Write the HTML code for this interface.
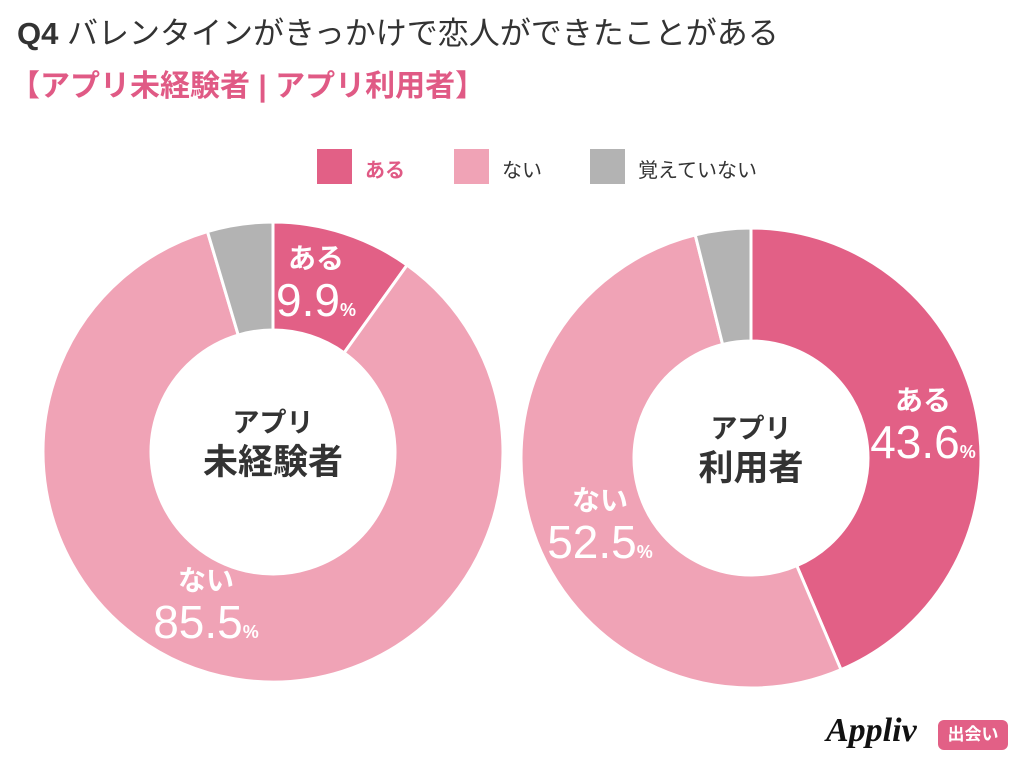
<!DOCTYPE html>
<html><head><meta charset="utf-8">
<style>
body{margin:0;width:1024px;height:768px;background:#fff;overflow:hidden;font-family:"Liberation Sans","Noto Sans CJK JP",sans-serif;}
.t{position:absolute;white-space:nowrap;}
</style></head>
<body>
<div class="t" style="left:17px;top:8px;font-size:31px;color:#333;"><b style="font-size:31px">Q4</b> バレンタインがきっかけで恋人ができたことがある</div>
<div class="t" style="left:10px;top:61px;font-size:30px;color:#e05a85;font-weight:bold;">【アプリ未経験者 | アプリ利用者】</div>
<div>
<div class="t" style="left:317px;top:149px;width:35px;height:35px;background:#e26086"></div>
<div class="t" style="left:365px;top:154px;font-size:20px;color:#e05a85;font-weight:bold">ある</div>
<div class="t" style="left:454px;top:149px;width:35px;height:35px;background:#f0a3b6"></div>
<div class="t" style="left:502px;top:154px;font-size:20px;color:#333">ない</div>
<div class="t" style="left:590px;top:149px;width:35px;height:35px;background:#b3b3b3"></div>
<div class="t" style="left:638px;top:154px;font-size:20px;color:#333">覚えていない</div>
</div>
<svg id="chart" width="1024" height="768" style="position:absolute;left:0;top:0"></svg>
<div class="t" style="left:826px;top:712px;font-family:'Liberation Serif',serif;font-style:italic;font-weight:bold;font-size:34px;color:#111">Appliv</div>
<div class="t" style="left:938px;top:720px;width:70px;height:30px;border-radius:6px;background:#e26086;color:#fff;font-size:17px;font-weight:bold;text-align:center;line-height:30px">出会い</div>
<script>
const categories=["ある","ない","覚えていない"];
const colors=["#e26086","#f0a3b6","#b3b3b3"];
const groupLabels=[["アプリ","未経験者"],["アプリ","利用者"]];
const valuesNovice=[9.9,85.5,4.6];
const valuesUser=[43.6,52.5,3.9];
const svg=document.getElementById('chart');
const NS="http://www.w3.org/2000/svg";
function pt(cx,cy,r,a){return [cx+r*Math.sin(a),cy-r*Math.cos(a)];}
function donut(vals,cx,cy,R,r,name,labelPos){
  const tot=vals.reduce((a,b)=>a+b,0);let acc=0;
  vals.forEach((v,i)=>{
    const a0=acc/tot*2*Math.PI;acc+=v;const a1=acc/tot*2*Math.PI;
    const lg=(a1-a0)>Math.PI?1:0;
    const p0=pt(cx,cy,R,a0),p1=pt(cx,cy,R,a1),q1=pt(cx,cy,r,a1),q0=pt(cx,cy,r,a0);
    const p=document.createElementNS(NS,'path');
    p.setAttribute('d',`M${p0}A${R},${R} 0 ${lg} 1 ${p1}L${q1}A${r},${r} 0 ${lg} 0 ${q0}Z`);
    p.setAttribute('fill',colors[i]);p.setAttribute('stroke','#fff');p.setAttribute('stroke-width','3');
    
    
    svg.appendChild(p);
    if(labelPos[i]){
      const [lx,ly]=labelPos[i];
      const t1=document.createElementNS(NS,'text');
      t1.setAttribute('x',lx);t1.setAttribute('y',ly);t1.setAttribute('text-anchor','middle');
      t1.setAttribute('fill','#fff');t1.setAttribute('font-size','28');t1.setAttribute('font-weight','bold');
      t1.textContent=categories[i];
      
      
      svg.appendChild(t1);
      const t2=document.createElementNS(NS,'text');
      t2.setAttribute('x',lx);t2.setAttribute('y',ly+48);t2.setAttribute('text-anchor','middle');
      t2.setAttribute('fill','#fff');t2.setAttribute('font-size','46');
      t2.innerHTML=v.toFixed(1)+'<tspan font-size="18" font-weight="bold">%</tspan>';
      
      
      svg.appendChild(t2);
    }
  });
}
donut(valuesNovice,273,452,230,122,'novice',[[316,268],[206,590],null]);
donut(valuesUser,751,458,230,117,'user',[[923,410],[600,510],null]);
[[273,432,groupLabels[0]],[751,438,groupLabels[1]]].forEach(([x,y,l],k)=>{
  const a=document.createElementNS(NS,'text');
  a.setAttribute('x',x);a.setAttribute('y',y);a.setAttribute('text-anchor','middle');a.setAttribute('font-size','27');a.setAttribute('font-weight','bold');a.setAttribute('fill','#333');a.textContent=l[0];
  
  
  svg.appendChild(a);
  const b=document.createElementNS(NS,'text');
  b.setAttribute('x',x);b.setAttribute('y',y+42);b.setAttribute('text-anchor','middle');b.setAttribute('font-size','35');b.setAttribute('font-weight','bold');b.setAttribute('fill','#333');b.textContent=l[1];
  
  
  svg.appendChild(b);
});
</script>
</body></html>
